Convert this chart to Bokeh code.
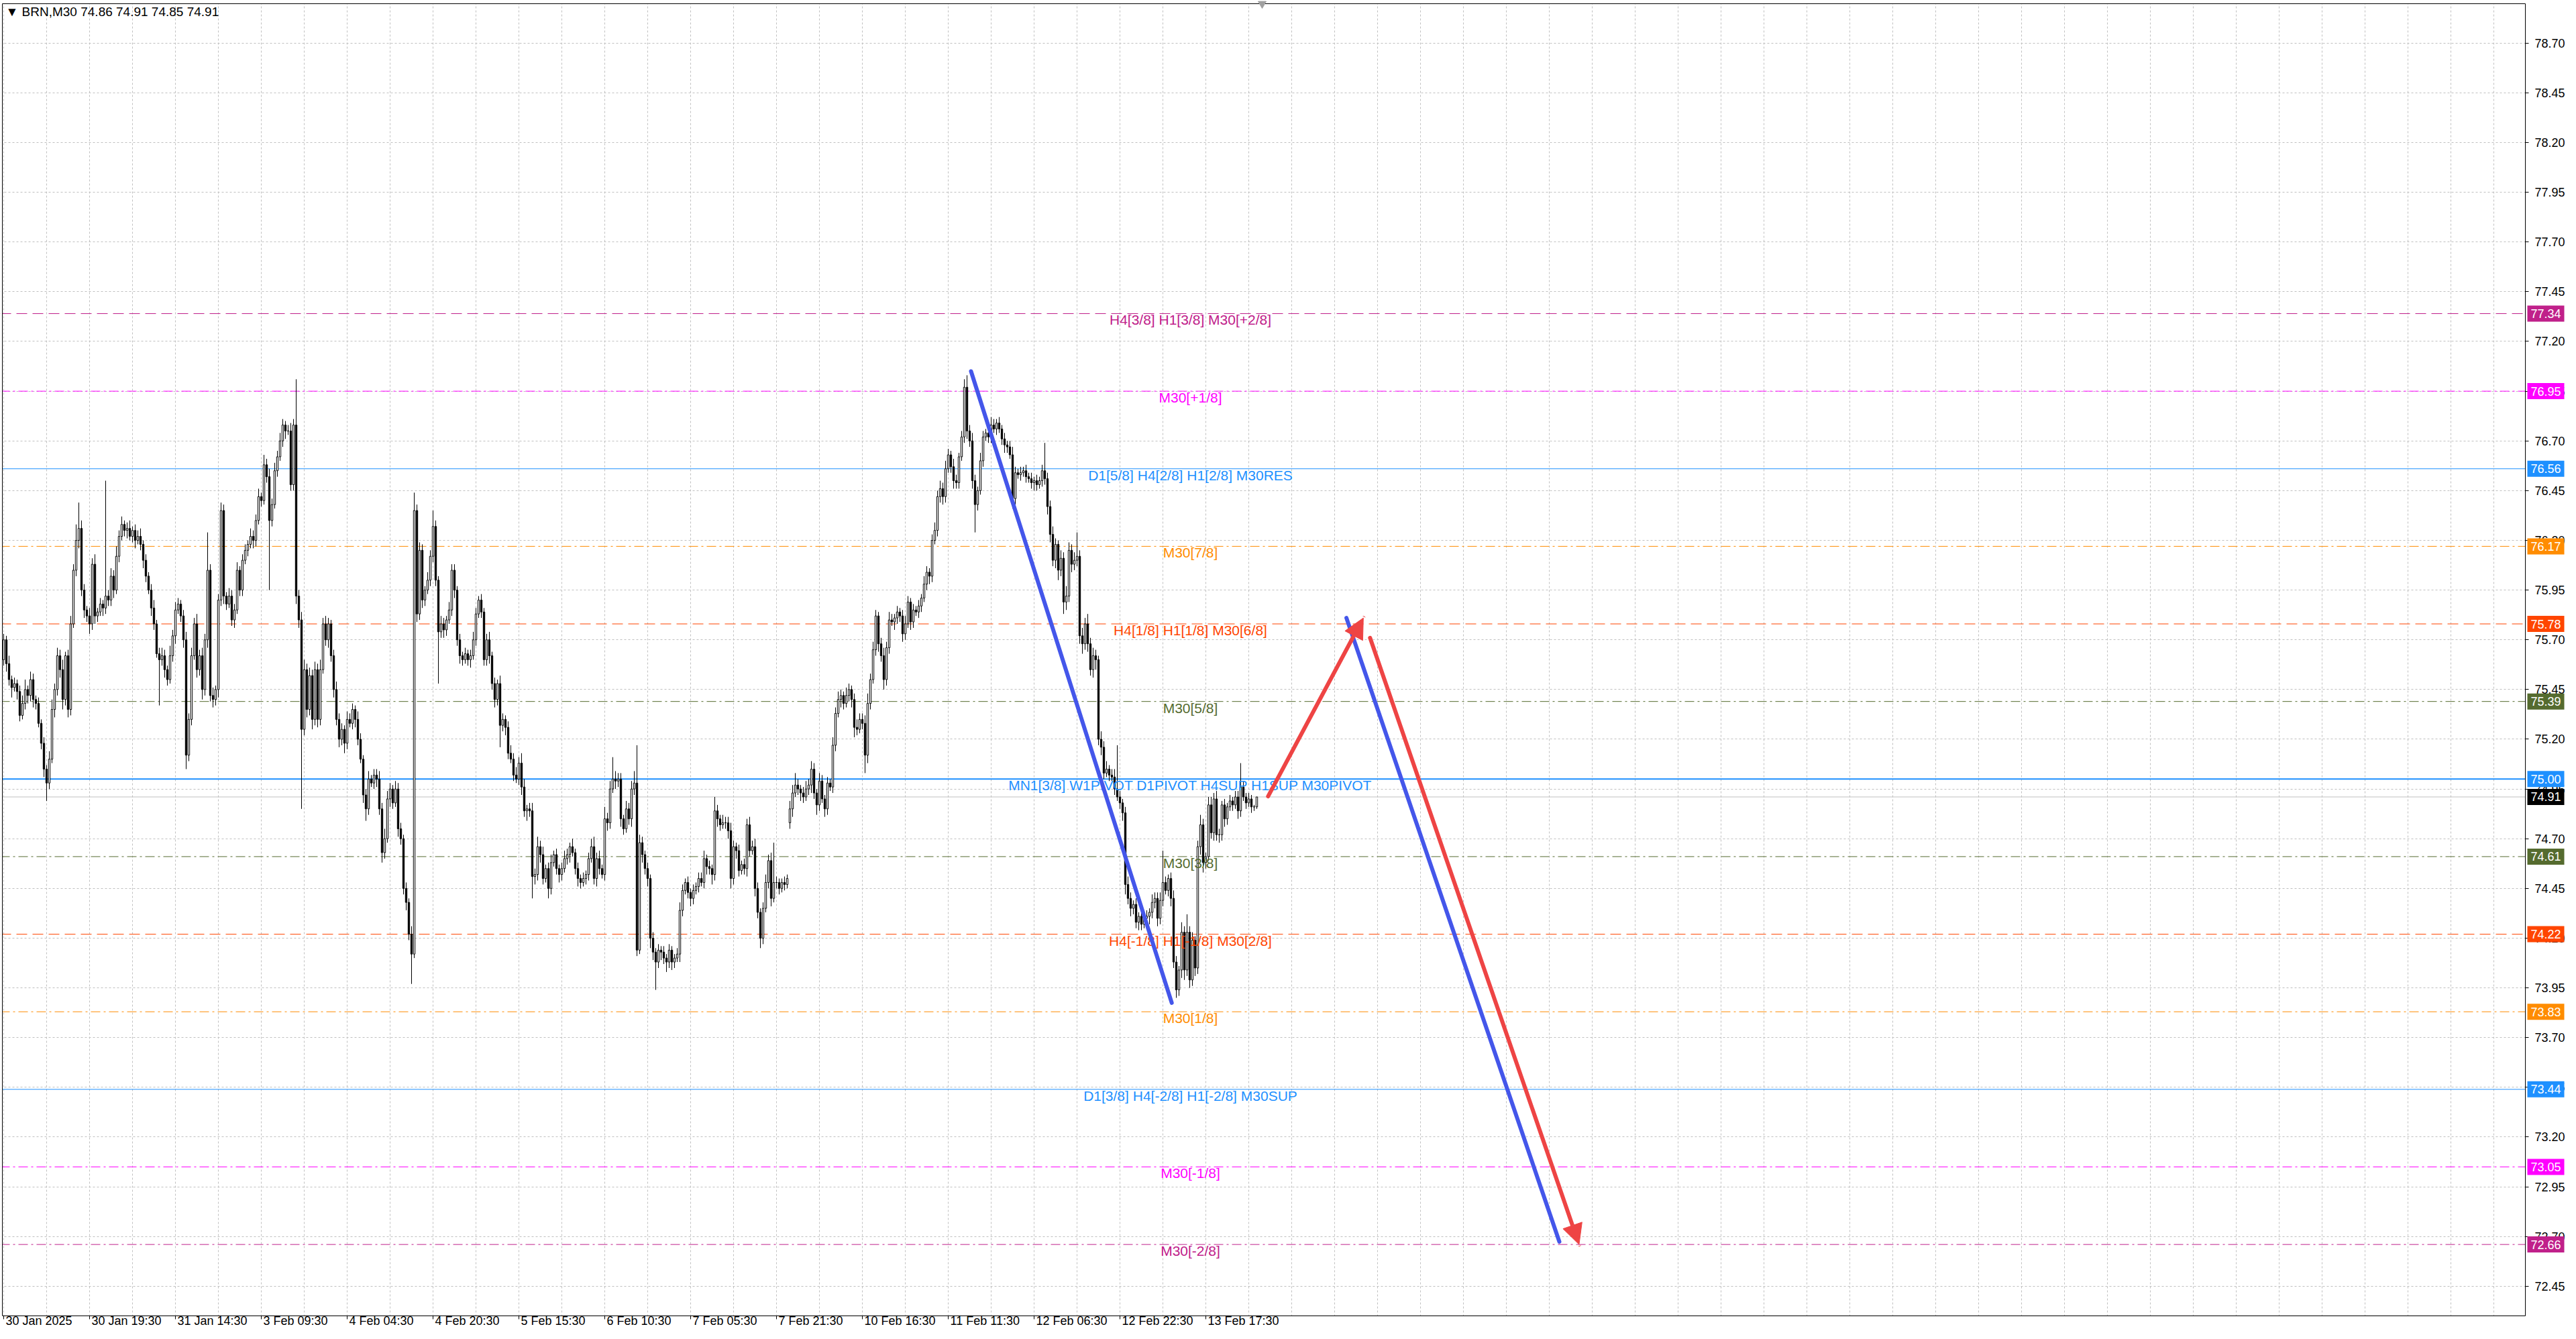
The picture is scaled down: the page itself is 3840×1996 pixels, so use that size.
import numpy as np
from bokeh.plotting import figure
from bokeh.models import Range1d, FixedTicker, Label, Arrow, NormalHead, Span, PrintfTickFormatter, BoxAnnotation
from bokeh.core.properties import value
from bokeh.embed import file_html
from bokeh.resources import INLINE

# ---------------- data (BRN, M30, bar index = 30-minute bars) ----------------
CLOSE = [
 75.70, 75.58, 75.50, 75.46, 75.48, 75.44, 75.32, 75.38, 75.45, 75.42,
 75.50, 75.40, 75.38, 75.28, 75.18, 75.05, 74.98, 75.10, 75.35, 75.45,
 75.62, 75.55, 75.40, 75.62, 75.35, 75.78, 76.05, 76.20, 76.26, 75.95,
 75.85, 75.82, 75.78, 76.08, 75.82, 75.84, 75.88, 75.86, 75.92, 75.90,
 76.02, 75.95, 76.12, 76.22, 76.28, 76.25, 76.26, 76.22, 76.25, 76.20,
 76.22, 76.18, 76.10, 76.02, 75.95, 75.86, 75.78, 75.63, 75.60, 75.62,
 75.55, 75.50, 75.62, 75.72, 75.85, 75.88, 75.82, 75.70, 75.12, 75.30,
 75.62, 75.78, 75.55, 75.62, 75.45, 75.70, 76.05, 75.42, 75.40, 75.45,
 75.90, 76.35, 75.92, 75.88, 75.92, 75.80, 75.85, 76.05, 75.95, 76.10,
 76.15, 76.18, 76.22, 76.20, 76.30, 76.42, 76.40, 76.58, 76.52, 76.30,
 76.38, 76.55, 76.62, 76.70, 76.78, 76.75, 76.75, 76.48, 76.78, 75.92,
 75.80, 75.25, 75.55, 75.35, 75.52, 75.30, 75.55, 75.30, 75.55, 75.78,
 75.70, 75.78, 75.62, 75.45, 75.30, 75.20, 75.25, 75.18, 75.30, 75.28,
 75.35, 75.30, 75.20, 75.10, 74.92, 74.85, 75.00, 74.98, 75.02, 75.00,
 74.85, 74.63, 74.70, 74.90, 74.95, 74.88, 74.95, 74.75, 74.70, 74.45,
 74.38, 74.22, 74.12, 76.35, 75.83, 76.15, 75.90, 75.95, 76.00, 76.12,
 76.27, 76.00, 75.74, 75.78, 75.75, 75.80, 75.85, 76.05, 75.95, 75.70,
 75.62, 75.60, 75.63, 75.60, 75.62, 75.70, 75.83, 75.90, 75.84, 75.60,
 75.70, 75.62, 75.48, 75.40, 75.48, 75.27, 75.30, 75.26, 75.13, 75.10,
 75.02, 75.00, 75.08, 74.96, 74.84, 74.85, 74.84, 74.51, 74.52, 74.66,
 74.62, 74.50, 74.55, 74.45, 74.58, 74.62, 74.55, 74.52, 74.55, 74.60,
 74.62, 74.66, 74.63, 74.55, 74.50, 74.48, 74.50, 74.52, 74.60, 74.66,
 74.50, 74.60, 74.55, 74.52, 74.80, 74.78, 74.95, 75.00, 74.99, 75.00,
 74.80, 74.75, 74.85, 74.80, 74.95, 74.98, 74.14, 74.68, 74.62, 74.55,
 74.50, 74.20, 74.13, 74.08, 74.14, 74.13, 74.10, 74.08, 74.14, 74.08,
 74.10, 74.12, 74.34, 74.44, 74.48, 74.43, 74.40, 74.44, 74.46, 74.50,
 74.48, 74.60, 74.56, 74.55, 74.52, 74.84, 74.80, 74.77, 74.78, 74.78,
 74.74, 74.50, 74.66, 74.64, 74.54, 74.57, 74.55, 74.77, 74.64, 74.66,
 74.45, 74.33, 74.20, 74.35, 74.48, 74.59, 74.40, 74.48, 74.48, 74.45,
 74.48, 74.47, 74.50, 74.85, 74.93, 74.97, 74.95, 74.93, 74.91, 74.95,
 74.97, 75.05, 74.93, 74.87, 74.99, 74.90, 74.85, 74.98, 74.96, 75.17,
 75.33, 75.40, 75.42, 75.38, 75.42, 75.45, 75.40, 75.26, 75.25, 75.30,
 75.28, 75.12, 75.38, 75.50, 75.65, 75.82, 75.68, 75.62, 75.50, 75.66,
 75.80, 75.79, 75.81, 75.84, 75.82, 75.73, 75.78, 75.89, 75.79, 75.85,
 75.84, 75.87, 75.91, 75.98, 76.04, 76.02, 76.20, 76.25, 76.42, 76.46,
 76.42, 76.56, 76.63, 76.57, 76.50, 76.49, 76.62, 76.72, 76.97, 76.75,
 76.70, 76.50, 76.38, 76.45, 76.60, 76.72, 76.74, 76.72, 76.78, 76.76,
 76.79, 76.76, 76.71, 76.68, 76.67, 76.63, 76.41, 76.54, 76.53, 76.54,
 76.55, 76.52, 76.51, 76.49, 76.50, 76.48, 76.50, 76.55, 76.51, 76.37,
 76.23, 76.10, 76.18, 76.05, 76.11, 75.89, 75.92, 76.15, 76.08, 76.10,
 76.12, 75.72, 75.68, 75.78, 75.68, 75.55, 75.62, 75.60, 75.20, 75.16,
 75.03, 75.05, 75.02, 75.01, 74.95, 74.91, 74.88, 74.83, 74.47, 74.40,
 74.35, 74.37, 74.28, 74.31, 74.27, 74.30, 74.31, 74.33, 74.38, 74.40,
 74.30, 74.39, 74.48, 74.44, 74.50, 74.40, 74.08, 73.94, 74.04, 74.23,
 74.04, 74.23, 73.99, 74.19, 74.05, 74.66, 74.77, 74.58, 74.61, 74.87,
 74.73, 74.90, 74.72, 74.72, 74.87, 74.80, 74.86, 74.89, 74.87, 74.91,
 74.84, 74.96, 74.91, 74.88, 74.90, 74.86, 74.86, 74.91,
]
FIRST_OPEN = 75.60
GAP_OPENS = {293: 74.78}          # Monday open after the weekend gap

UPPER_WICK_CENTS = [
 3,2,4,2,3,2,3,4,5,2, 4,3,2,3,2,3,2,4,5,3, 4,3,5,2,3,4,3,8,13,4, 3,2,4,3,5,2,3,2,58,3,
 4,3,5,3,4,2,3,4,2,3, 3,4,2,3,2,3,4,2,3,4, 3,2,5,3,4,3,2,3,4,3, 4,3,5,3,4,3,19,3,4,2,
 3,4,3,2,4,3,3,4,2,3, 3,2,4,3,3,4,2,5,3,4, 3,4,3,4,3,2,3,4,3,23, 3,4,5,3,4,3,4,3,5,3,
 4,3,2,3,4,3,3,2,4,3, 3,2,4,3,2,3,4,2,3,3, 4,3,5,4,3,2,4,3,3,2, 3,2,4,9,3,4,3,2,4,3,
 8,3,2,4,3,2,4,3,3,2, 3,2,3,2,3,4,3,2,3,2, 3,4,2,3,2,4,3,2,3,4, 3,4,3,5,4,2,3,4,3,5,
 3,4,2,3,4,2,3,2,3,4, 3,2,4,2,3,2,3,2,3,4, 5,3,4,2,6,3,4,11,4,3, 3,2,4,3,4,6,19,4,3,2,
 3,2,3,2,3,2,3,2,3,2, 2,3,4,3,2,3,2,3,2,3, 3,4,2,3,2,7,3,2,4,3, 3,4,3,2,3,2,3,3,4,3,
 4,3,2,3,4,3,4,20,3,2, 2,3,2,4,4,6,3,2,3,4, 3,4,3,2,4,3,2,3,2,4, 3,4,3,2,4,3,2,3,4,3,
 3,4,5,3,4,3,2,3,4,3, 4,3,2,3,2,3,4,3,2,3, 2,3,2,4,3,2,3,4,3,4, 3,4,3,2,4,3,2,3,4,6,
 3,4,3,2,4,3,2,3,4,3, 2,3,2,3,2,3,4,3,2,3, 2,3,2,3,2,3,2,3,14,3, 3,4,3,2,4,3,5,4,3,4,
 12,3,4,3,5,3,4,3,2,4, 3,4,2,3,4,22,3,2,3,4, 3,2,3,2,3,2,3,2,4,3, 3,4,16,3,2,3,4,3,2,5,
 3,9,3,4,2,3,5,3,2,4, 4,3,4,3,2,3,2,3,2,3, 3,12,3,2,3,2,1,0,
]
LOWER_WICK_CENTS = [
 3,4,3,5,2,4,3,2,3,4, 3,4,3,2,3,4,9,3,2,4, 3,4,5,3,4,3,2,3,4,3, 4,3,5,3,4,3,2,4,3,3,
 3,4,2,3,2,3,4,2,3,4, 2,3,4,3,2,4,3,2,23,3, 4,3,2,3,4,2,3,4,7,3, 3,2,4,3,5,3,4,3,4,3,
 4,3,4,3,2,3,4,2,3,3, 2,3,2,4,3,2,3,2,3,35, 3,2,3,2,3,4,2,3,3,4, 4,40,3,4,3,5,3,4,3,2,
 3,4,3,4,3,4,3,5,3,2, 3,4,3,2,4,6,3,2,3,4, 3,5,3,2,4,3,2,4,3,3, 4,3,15,2,4,3,4,3,2,3,
 3,3,26,3,4,3,2,3,4,3, 4,3,2,3,4,2,3,2,3,3, 3,4,3,4,3,11,3,4,3,2, 3,2,3,4,3,5,3,11,4,3,
 4,3,2,5,3,2,3,4,3,2, 3,4,2,3,4,3,2,3,3,2, 3,4,3,2,3,4,3,2,4,3, 4,3,2,3,4,3,3,2,4,3,
 4,5,4,14,3,4,3,5,3,4, 3,2,4,3,2,3,4,3,2,3, 2,3,4,3,5,3,4,3,2,3, 4,5,3,4,3,2,3,4,3,2,
 4,3,5,3,2,3,4,2,3,3, 2,3,2,3,4,2,3,4,3,2, 3,4,3,5,3,2,4,3,2,3, 3,2,4,3,2,3,4,5,3,2,
 3,9,4,3,2,3,4,3,5,3, 3,2,4,3,3,4,3,2,4,3, 2,3,3,2,3,4,3,2,3,3, 4,3,2,3,4,3,3,2,3,4,
 3,4,14,3,2,3,2,3,3,2, 3,2,3,4,3,2,5,3,2,3, 2,3,2,3,4,3,2,3,3,4, 4,3,4,5,3,6,4,3,4,3,
 3,4,5,3,4,3,4,5,3,4, 3,2,3,2,3,2,3,4,5,3, 4,3,3,4,3,2,3,4,3,3, 4,3,3,2,3,4,3,4,3,4,
 5,3,4,3,4,3,4,5,3,2, 3,4,3,4,3,4,3,2,3,2, 4,3,2,3,2,3,2,1,
]

DATE_TICK_BARS = [0, 32, 64, 96, 128, 160, 192, 224, 256, 288, 320, 352, 384, 416, 448]
DATE_LABELS = ["30 Jan 2025", "30 Jan 19:30", "31 Jan 14:30", "3 Feb 09:30", "4 Feb 04:30",
               "4 Feb 20:30", "5 Feb 15:30", "6 Feb 10:30", "7 Feb 05:30", "7 Feb 21:30",
               "10 Feb 16:30", "11 Feb 11:30", "12 Feb 06:30", "12 Feb 22:30", "13 Feb 17:30"]
PRICE_TICKS = [72.45, 72.70, 72.95, 73.20, 73.45, 73.70, 73.95, 74.20, 74.45, 74.70, 74.95,
               75.20, 75.45, 75.70, 75.95, 76.20, 76.45, 76.70, 76.95, 77.20, 77.45, 77.70,
               77.95, 78.20, 78.45, 78.70]
GRID_BARS = list(range(0, 945, 16))

# Murrey-math levels
LEVEL_PRICES = [77.34, 76.95, 76.56, 76.17, 75.78, 75.39, 75.00, 74.61, 74.22, 73.83, 73.44, 73.05, 72.66]
LEVEL_TEXTS = ["H4[3/8] H1[3/8] M30[+2/8]", "M30[+1/8]", "D1[5/8] H4[2/8] H1[2/8] M30RES",
               "M30[7/8]", "H4[1/8] H1[1/8] M30[6/8]", "M30[5/8]",
               "MN1[3/8] W1PIVOT D1PIVOT H4SUP H1SUP M30PIVOT", "M30[3/8]",
               "H4[-1/8] H1[-1/8] M30[2/8]", "M30[1/8]", "D1[3/8] H4[-2/8] H1[-2/8] M30SUP",
               "M30[-1/8]", "M30[-2/8]"]
LEVEL_COLORS = ["#C0208A", "#FF00FF", "#1E90FF", "#FF8C00", "#FF4500", "#556B2F", "#1E90FF",
                "#556B2F", "#FF4500", "#FF8C00", "#1E90FF", "#FF00FF", "#C0208A"]
LEVEL_DASHES = ["16 8", "14 5 3 5", "solid", "14 5 3 5", "16 8", "14 5 3 5", "solid",
                "14 5 3 5", "16 8", "14 5 3 5", "solid", "14 5 3 5", "14 5 3 5"]
LEVEL_WIDTHS = [1, 1, 1, 1, 1, 1, 2, 1, 1, 1, 1, 1, 1]
LEVEL_TEXT_BAR = 442.25
BID = 74.91
HEADER = "\u25BC BRN,M30  74.86 74.91 74.85 74.91"

# hand-drawn projection lines (bar index, price)
BLUE_LINE_1 = ([360.5, 435.3], [77.05, 73.875])
BLUE_LINE_2 = ([500.4, 579.75], [75.81, 72.674])
RED_ARROW_1 = ([471.2, 506.7], [74.913, 75.81])
RED_ARROW_2 = ([509.2, 587.1], [75.71, 72.66])

# ---------------- build OHLC ----------------
C = np.array(CLOSE)
O = np.r_[FIRST_OPEN, C[:-1]]
for k, v in GAP_OPENS.items():
    O[k] = v
Hh = np.maximum(O, C) + np.array(UPPER_WICK_CENTS) / 100.0
Ll = np.minimum(O, C) - np.array(LOWER_WICK_CENTS) / 100.0
idx = np.arange(len(C))
up = C >= O

# ---------------- geometry (whole canvas is the data frame) ----------------
FONT = "Liberation Sans"
PX_PER_BAR = 4.0
PX_PER_UNIT = 296.5
W, H = 3824, 1980
X0 = -1.25
X1 = X0 + W / PX_PER_BAR
Y1 = 78.915
Y0 = Y1 - H / PX_PER_UNIT
CX0, CX1 = -0.5, 939.75          # chart area (bars)
CY0, CY1 = 72.302, 78.898        # chart area (price)

p = figure(width=W, height=H, output_backend="svg", toolbar_location=None,
           x_range=Range1d(X0, X1), y_range=Range1d(Y0, Y1), y_axis_location="right",
           min_border_left=0, min_border_top=0, min_border_right=0, min_border_bottom=0,
           background_fill_color="white", border_fill_color="white")
p.outline_line_color = None

# axes pinned to the chart edges
p.yaxis.fixed_location = CX1
p.yaxis.bounds = (CY0, CY1)
p.yaxis.ticker = FixedTicker(ticks=PRICE_TICKS, minor_ticks=[])
p.yaxis.formatter = PrintfTickFormatter(format="%.2f")
p.yaxis.major_label_text_font = FONT
p.yaxis.major_label_text_font_size = "18px"
p.yaxis.major_label_text_color = "black"
p.yaxis.major_tick_out = 5
p.yaxis.major_tick_in = 0
p.yaxis.major_label_standoff = 9
p.yaxis.axis_line_color = "black"
p.yaxis.major_tick_line_color = "black"

p.xaxis.fixed_location = CY0
p.xaxis.bounds = (CX0, CX1)
p.xaxis.ticker = FixedTicker(ticks=DATE_TICK_BARS, minor_ticks=[])
p.xaxis.major_label_text_alpha = 0
p.xaxis.major_tick_out = 5
p.xaxis.major_tick_in = 0
p.xaxis.axis_line_color = "black"
p.xaxis.major_tick_line_color = "black"

p.xgrid.ticker = FixedTicker(ticks=GRID_BARS, minor_ticks=[])
for g in (p.xgrid, p.ygrid):
    g.grid_line_color = "#C0C0C0"
    g.grid_line_dash = "3 3"
    g.grid_line_width = 1

# level lines
for lv, col, dash, w in zip(LEVEL_PRICES, LEVEL_COLORS, LEVEL_DASHES, LEVEL_WIDTHS):
    p.add_layout(Span(location=lv, dimension="width", line_color=col, line_dash=dash,
                      line_width=w, level="underlay"))
p.add_layout(Span(location=BID, dimension="width", line_color="#C0C0C0", line_width=1,
                  level="underlay"))

# white margins outside the chart area
p.quad(left=[CX1, X0, X0, X0], right=[X1, X1, X1, CX0], bottom=[Y0, Y0, CY1, Y0],
       top=[Y1, CY0, Y1, Y1], fill_color="white", line_color=None)
# left / top chart border
p.segment(x0=[CX0, CX0], y0=[CY0, CY1], x1=[CX0, CX1], y1=[CY1, CY1], line_color="black",
          line_width=1)

# candles
p.segment(x0=idx, y0=Ll, x1=idx, y1=Hh, line_color="black", line_width=1)
p.vbar(x=idx[up], top=C[up], bottom=O[up], width=0.6, fill_color="white",
       line_color="black", line_width=1)
p.vbar(x=idx[~up], top=O[~up], bottom=C[~up], width=0.6, fill_color="black",
       line_color="black", line_width=1)

# level texts
for lv, txt, col in zip(LEVEL_PRICES, LEVEL_TEXTS, LEVEL_COLORS):
    p.text(x=[LEVEL_TEXT_BAR], y=[lv], text=[txt], text_align="center", text_baseline="top",
           y_offset=-2, text_color=col, text_font=value(FONT), text_font_size="21px")

# projection lines
BLUE = "#4456EA"
RED = "#EE4444"
for xs, ys in (BLUE_LINE_1, BLUE_LINE_2):
    p.line(xs, ys, line_color=BLUE, line_width=6, line_cap="round")
for xs, ys in (RED_ARROW_1, RED_ARROW_2):
    p.add_layout(Arrow(x_start=xs[0], y_start=ys[0], x_end=xs[1], y_end=ys[1],
                       line_color=RED, line_width=6, line_cap="round",
                       end=NormalHead(size=30, fill_color=RED, line_color=RED, line_width=1)))

# chart-shift marker
p.scatter(x=[469], y=[CY1], marker="inverted_triangle", size=12, fill_color="#A0A0A0",
          line_color="#A0A0A0")

# date labels (left-aligned at their ticks, MT4 style), kept inside the canvas
p.text(x=DATE_TICK_BARS, y=[CY0] * len(DATE_TICK_BARS), text=DATE_LABELS, text_align="left",
       text_baseline="bottom", x_offset=3, y_offset=18, text_color="black",
       text_font=value(FONT), text_font_size="18px")

# header
p.text(x=[CX0], y=[CY1], text=[HEADER], text_align="left", text_baseline="middle",
       x_offset=5, y_offset=12, text_color="black", text_font=value(FONT),
       text_font_size="19px")

# price tags on the right axis (drawn above the axis labels)
TAG_HALF = 12.0 / PX_PER_UNIT
TAG_L = CX1 + 3 / PX_PER_BAR
TAG_R = CX1 + 58 / PX_PER_BAR
for lv, col in list(zip(LEVEL_PRICES, LEVEL_COLORS)) + [(BID, "black")]:
    p.add_layout(BoxAnnotation(left=TAG_L, right=TAG_R, bottom=lv - TAG_HALF, top=lv + TAG_HALF,
                               fill_color=col, fill_alpha=1.0, line_color=None))
    p.add_layout(Label(x=TAG_L, y=lv, x_offset=5, text=f"{lv:.2f}", text_color="white",
                       text_font=FONT, text_font_size="18px", text_baseline="middle",
                       text_align="left"))

open("out.html", "w").write(file_html(p, INLINE))
